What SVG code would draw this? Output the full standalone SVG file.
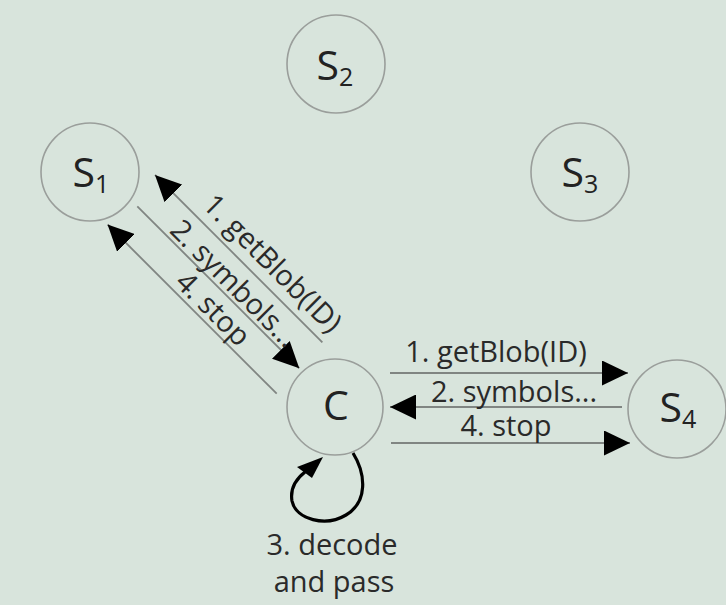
<svg xmlns="http://www.w3.org/2000/svg" width="726" height="605" viewBox="0 0 726 605">
<style>
.node{fill:none;stroke:#9a9e9b;stroke-width:1.6}
.nl{font-family:"Open Sans","Liberation Sans",sans-serif;font-size:41px;fill:#222;text-anchor:middle}
.sub{font-size:25px}
.edge{stroke:#808582;stroke-width:1.8;fill:none}
.lbl{font-family:"Open Sans","Liberation Sans",sans-serif;font-size:29px;fill:#2a2a2a;text-anchor:middle}
</style>
<defs>
<marker id="ah" markerUnits="userSpaceOnUse" markerWidth="26" markerHeight="25" refX="26" refY="12.5" orient="auto">
<path d="M0,0 L26,12.5 L0,25 Z" fill="#000"/>
</marker>
</defs>
<rect width="726" height="605" fill="#d8e4dc"/>
<g id="S1"><circle class="node" cx="90" cy="172" r="49"/><text class="nl" x="91" y="187">S<tspan class="sub" dy="6">1</tspan></text></g>
<g id="S2"><circle class="node" cx="336" cy="64" r="49"/><text class="nl" x="335" y="80">S<tspan class="sub" dy="6">2</tspan></text></g>
<g id="S3"><circle class="node" cx="580" cy="172" r="49"/><text class="nl" x="580" y="187">S<tspan class="sub" dy="6">3</tspan></text></g>
<g id="C"><circle class="node" cx="335" cy="407" r="48"/><text class="nl" x="336" y="420">C</text></g>
<g id="S4"><circle class="node" cx="677" cy="409" r="49"/><text class="nl" x="678" y="422">S<tspan class="sub" dy="6">4</tspan></text></g>
<g id="connectors">
<g transform="rotate(45)">
<line class="edge" x1="470" y1="14.1" x2="233.3" y2="14.1" marker-end="url(#ah)"/>
<line class="edge" x1="243" y1="48.8" x2="472" y2="48.8" marker-end="url(#ah)"/>
<line class="edge" x1="474" y1="82.7" x2="234.8" y2="82.7" marker-end="url(#ah)"/>
<text class="lbl" x="379" y="3.5">1. getBlob(ID)</text>
<text class="lbl" x="366" y="44.8">2. symbols...</text>
<text class="lbl" x="369" y="77.7">4. stop</text>
</g>
<line class="edge" x1="390" y1="373" x2="628" y2="373" marker-end="url(#ah)"/>
<line class="edge" x1="622" y1="407" x2="390" y2="407" marker-end="url(#ah)"/>
<line class="edge" x1="391" y1="443" x2="630" y2="443" marker-end="url(#ah)"/>
<text class="lbl" x="496" y="362">1. getBlob(ID)</text>
<text class="lbl" x="514" y="402">2. symbols...</text>
<text class="lbl" x="506" y="436">4. stop</text>
<path d="M353,453 C366,474 368,502 346,515 C326,527 296,520 292,501 C290,489 296,479 305,472" fill="none" stroke="#000" stroke-width="3.2"/>
<polygon points="323,457 297,467 312,478" fill="#000"/>
<text class="lbl" x="332" y="555">3. decode</text>
<text class="lbl" x="334" y="592">and pass</text>
</g>
</svg>
